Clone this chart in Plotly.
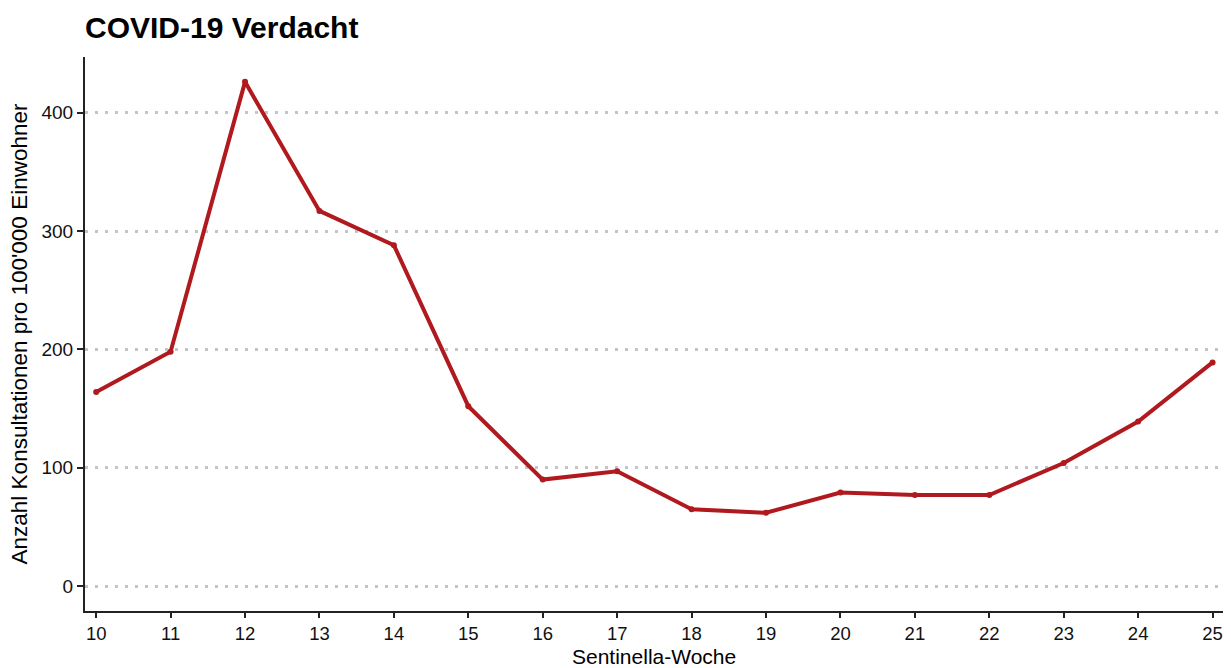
import plotly.graph_objects as go

# Sentinella weeks and suspected COVID-19 consultations per 100'000 inhabitants
weeks = list(range(10, 26))
konsultationen = [164, 198, 426, 317, 288, 152, 90, 97, 65, 62, 79, 77, 77, 104, 139, 189]

y_ticks = [0, 100, 200, 300, 400]
x_ticks = weeks

line_color = "#B0191E"
font_family = "Liberation Sans, Arial, sans-serif"

# plot area geometry in pixels
fig_w, fig_h = 1231, 668
m_l, m_r, m_t, m_b = 85, 8, 57, 57
plot_h = fig_h - m_t - m_b

fig = go.Figure(
    go.Scatter(
        x=weeks,
        y=konsultationen,
        mode="lines+markers",
        line=dict(color=line_color, width=4),
        marker=dict(color=line_color, size=6),
        hoverinfo="x+y",
    )
)

fig.update_layout(
    width=fig_w,
    height=fig_h,
    margin=dict(l=m_l, r=m_r, t=m_t, b=m_b),
    paper_bgcolor="white",
    plot_bgcolor="white",
    showlegend=False,
    font=dict(family=font_family, color="black", size=19),
    title=dict(
        text="<b>COVID-19 Verdacht</b>",
        x=m_l / fig_w,
        xanchor="left",
        y=1 - 27 / fig_h,
        yanchor="middle",
        font=dict(size=30, family=font_family, color="black"),
    ),
    xaxis=dict(
        range=[9.85, 25.14],
        automargin=False,
        tickmode="array",
        tickvals=x_ticks,
        ticktext=[str(w) for w in x_ticks],
        ticks="outside",
        ticklen=5,
        tickwidth=2,
        tickcolor="#222",
        showline=True,
        linecolor="#222",
        linewidth=2,
        showgrid=False,
        zeroline=False,
        tickfont=dict(size=18.5, color="#111"),
    ),
    yaxis=dict(
        range=[-21, 447],
        automargin=False,
        tickmode="array",
        tickvals=y_ticks,
        ticktext=[str(v) for v in y_ticks],
        ticks="outside",
        ticklen=6,
        tickwidth=2,
        tickcolor="#222",
        showline=True,
        linecolor="#222",
        linewidth=2,
        showgrid=True,
        gridcolor="#C4C4C4",
        gridwidth=2.5,
        griddash="3px,7px",
        zeroline=False,
        tickfont=dict(size=19, color="#111"),
        title=dict(text="Anzahl Konsultationen pro 100'000 Einwohner", font=dict(size=22.5), standoff=8),
    ),
    annotations=[
        dict(
            text="Sentinella-Woche",
            xref="paper",
            yref="paper",
            x=0.5,
            y=-(fig_h - (fig_h - m_b)) / plot_h,
            xanchor="center",
            yanchor="bottom",
            showarrow=False,
            borderpad=0,
            borderwidth=0,
            font=dict(size=21, family=font_family, color="black"),
        )
    ],
)

fig.write_html("out.html")
